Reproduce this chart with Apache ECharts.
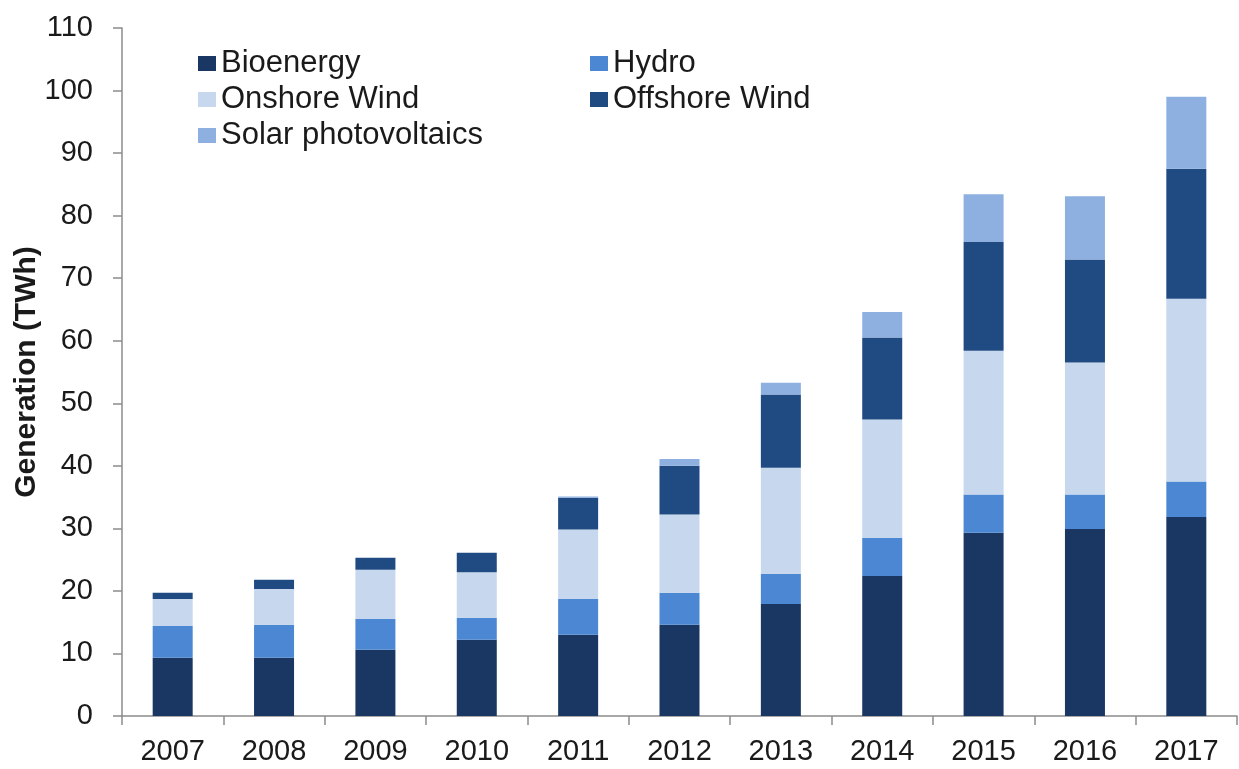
<!DOCTYPE html>
<html>
<head>
<meta charset="utf-8">
<script src="https://cdn.jsdelivr.net/npm/echarts@6/dist/echarts.min.js"></script>
<style>
html,body{margin:0;padding:0;background:#fff;}
#chart{width:1239px;height:769px;}
</style>
</head>
<body>
<div id="chart"></div>
<script>
const years = ['2007','2008','2009','2010','2011','2012','2013','2014','2015','2016','2017'];
const bioenergy = [9.3, 9.3, 10.6, 12.2, 13.0, 14.6, 17.9, 22.4, 29.3, 29.9, 31.8];
const hydro = [5.1, 5.3, 4.9, 3.5, 5.7, 5.1, 4.8, 6.1, 6.1, 5.5, 5.7];
const onshoreWind = [4.3, 5.7, 7.9, 7.3, 11.1, 12.5, 17.0, 18.9, 23.0, 21.1, 29.2];
const offshoreWind = [1.0, 1.5, 1.9, 3.1, 5.1, 7.8, 11.7, 13.1, 17.4, 16.5, 20.8];
const solarPV = [0, 0, 0, 0, 0.2, 1.1, 1.9, 4.1, 7.6, 10.1, 11.5];
const yTicks = [0, 10, 20, 30, 40, 50, 60, 70, 80, 90, 100, 110];

const FONT = '"Liberation Sans", Arial, Helvetica, sans-serif';
const colors = {
  'Bioenergy': '#1a3763',
  'Hydro': '#4b87d2',
  'Onshore Wind': '#c6d7ee',
  'Offshore Wind': '#1f4b82',
  'Solar photovoltaics': '#8db0e0'
};
const seriesData = [
  ['Bioenergy', bioenergy],
  ['Hydro', hydro],
  ['Onshore Wind', onshoreWind],
  ['Offshore Wind', offshoreWind],
  ['Solar photovoltaics', solarPV]
];

const legendText = {fontFamily: FONT, fontSize: 31, color: '#1a1a1a', lineHeight: 30};
const chart = echarts.init(document.getElementById('chart'));
chart.setOption({
  backgroundColor: '#ffffff',
  animation: false,
  legend: [
    {
      data: ['Bioenergy', 'Onshore Wind', 'Solar photovoltaics'],
      orient: 'vertical', left: 198, top: 48,
      itemWidth: 18, itemHeight: 15, itemGap: 5, padding: 0,
      icon: 'rect', textStyle: legendText, selectedMode: false
    },
    {
      data: ['Hydro', 'Offshore Wind'],
      orient: 'vertical', left: 590, top: 48,
      itemWidth: 18, itemHeight: 15, itemGap: 5, padding: 0,
      icon: 'rect', textStyle: legendText, selectedMode: false
    }
  ],
  grid: {left: 122, right: 2, top: 28, bottom: 53, containLabel: false, outerBoundsMode: 'none'},
  xAxis: {
    type: 'category',
    data: years,
    axisLine: {show: true, lineStyle: {color: '#8c8c8c', width: 1.5}},
    axisTick: {show: true, alignWithLabel: false, length: 9, lineStyle: {color: '#8c8c8c', width: 1.5}},
    axisLabel: {fontFamily: FONT, fontSize: 29, color: '#1a1a1a', margin: 21}
  },
  yAxis: {
    type: 'value',
    min: yTicks[0], max: yTicks[yTicks.length - 1], interval: 10,
    name: 'Generation (TWh)',
    nameLocation: 'middle', nameGap: 80, nameRotate: 90, nameMoveOverlap: false,
    nameTextStyle: {fontFamily: FONT, fontSize: 30, fontWeight: 'bold', color: '#1a1a1a'},
    axisLine: {show: true, lineStyle: {color: '#8c8c8c', width: 1.5}},
    axisTick: {show: true, inside: false, length: 9, lineStyle: {color: '#8c8c8c', width: 1.5}},
    axisLabel: {fontFamily: FONT, fontSize: 29, color: '#1a1a1a', margin: 29},
    splitLine: {show: false}
  },
  series: seriesData.map(([name, data]) => ({
    name: name,
    type: 'bar',
    stack: 'total',
    barWidth: 40,
    data: data,
    itemStyle: {color: colors[name]}
  }))
});
</script>
</body>
</html>
